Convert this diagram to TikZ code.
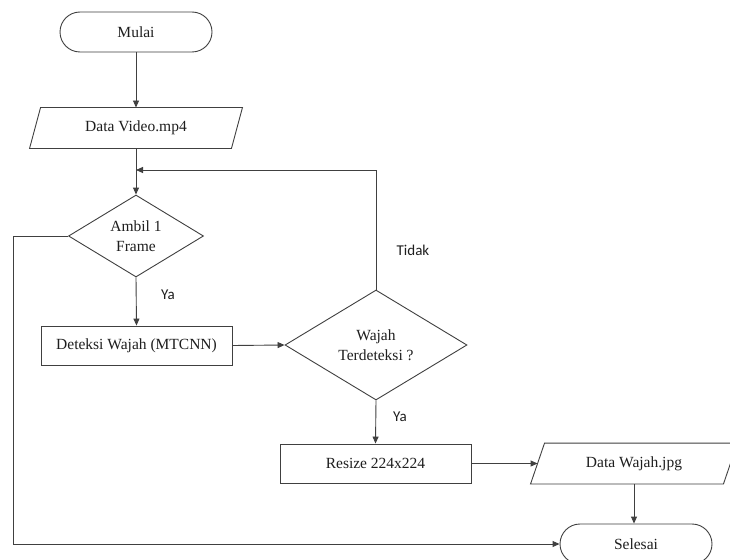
\documentclass[tikz,border=0pt]{standalone}
\usepackage{fontspec}
\setmainfont{Liberation Serif}
\newfontfamily\labelfont{Carlito}
\usetikzlibrary{shapes.geometric,arrows.meta}
\definecolor{ln}{HTML}{404040}
\definecolor{tx}{HTML}{1E1E1E}
\tikzset{
  base/.style={draw=ln, line width=0.9pt, text=tx, inner sep=0pt, align=center,
    font=\fontsize{15.5}{19.5}\selectfont},
  term/.style={base, rectangle, rounded corners=20pt, minimum width=152pt, minimum height=40pt},
  proc/.style={base, rectangle, minimum width=191pt, minimum height=39pt},
  iobox/.style={base, draw=none, rectangle, minimum height=40pt},
  decis/.style={base, diamond, aspect=1.65},
  arr/.style={draw=ln, line width=0.9pt, -{Triangle[length=7pt,width=6pt]}},
  plain/.style={draw=ln, line width=0.9pt},
  lbl/.style={text=tx, font=\labelfont\fontsize{15}{18}\selectfont}
}
\begin{document}
\begin{tikzpicture}[x=1pt,y=-1pt]
\useasboundingbox (0,0) rectangle (730,559);
\fill[white] (0,0) rectangle (730,559);

\node[term] (mulai) at (136,32) {Mulai};
\node[iobox, minimum width=201pt] (dv) at (136,128) {Data Video.mp4};
\draw[plain] ([xshift=5.5pt]dv.north west) -- ([xshift=5.5pt]dv.north east)
  -- ([xshift=-5.5pt]dv.south east) -- ([xshift=-5.5pt]dv.south west) -- cycle;
\node[decis, minimum width=135pt, minimum height=82pt] (d1) at (136,236) {Ambil 1\\Frame};
\node[proc] (det) at (136.5,345.5) {Deteksi Wajah (MTCNN)};
\node[decis, minimum width=182pt, minimum height=110pt] (d2) at (376,345) {Wajah\\Terdeteksi ?};
\node[proc] (rs) at (375.5,463.5) {Resize 224x224};
\node[iobox, minimum width=192pt] (dw) at (634,463.5) {Data Wajah.jpg};
\draw[plain] ([xshift=7pt]dw.north west) -- ([xshift=7pt]dw.north east)
  -- ([xshift=-7pt]dw.south east) -- ([xshift=-7pt]dw.south west) -- cycle;
\node[term] (sel) at (636,544) {Selesai};

\coordinate (loop) at (136,170);
\coordinate (lft) at (13,236);

\draw[arr] (mulai.south) -- (dv.north);
\draw[arr] (dv.south) -- (d1.north);
\draw[arr] (d2.north) |- (loop);
\draw[arr] (d1.south) -- (det.north);
\draw[arr] (det.east) -- (d2.west);
\draw[arr] (d2.south) -- (rs.north);
\draw[arr] (rs.east) -- (dw.west);
\draw[arr] (dw.south) -- (sel.north -| dw.south);
\draw[arr] (d1.west) -- (lft) |- (sel.west);

\node[lbl] (ya1) at (168,295) {Ya};
\node[lbl] (tidak) at (413,250) {Tidak};
\node[lbl] (ya2) at (400,417) {Ya};
\end{tikzpicture}
\end{document}
